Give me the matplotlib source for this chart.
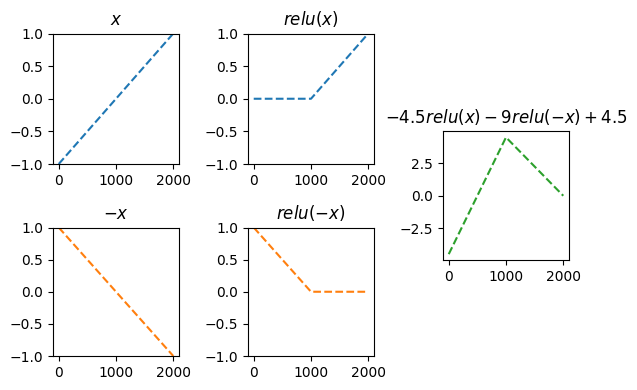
import matplotlib
matplotlib.use('Agg')
import matplotlib.pyplot as plt

# breakpoints of the piecewise-linear curves (sample index -> value)
steps = [0, 1000, 2000]
x_vals = [-1.0, 0.0, 1.0]
relu_x = [0.0, 0.0, 1.0]
neg_x = [1.0, 0.0, -1.0]
relu_neg_x = [1.0, 0.0, 0.0]
combo = [-4.5, 4.5, 0.0]

titles = ['$x$', '$relu(x)$', '$-x$', '$relu(-x)$',
          '$-4.5relu(x) - 9relu(-x) + 4.5$']

W, H = 637, 390
fig = plt.figure(figsize=(W / 100, H / 100), dpi=100)


def box(x0, x1, y0, y1):
    return [x0 / W, 1 - y1 / H, (x1 - x0) / W, (y1 - y0) / H]


ax1 = fig.add_axes(box(53, 179, 33.5, 164))
ax2 = fig.add_axes(box(248, 374, 33.5, 164))
ax4 = fig.add_axes(box(53, 179, 227.5, 356))
ax5 = fig.add_axes(box(248, 374, 227.5, 356))
ax3 = fig.add_axes(box(443, 569, 131.5, 260))

for ax, ys, c, t in [(ax1, x_vals, 'C0', titles[0]),
                     (ax2, relu_x, 'C0', titles[1]),
                     (ax4, neg_x, 'C1', titles[2]),
                     (ax5, relu_neg_x, 'C1', titles[3])]:
    ax.plot(steps, ys, '--', color=c)
    ax.set_ylim(-1, 1)
    ax.set_title(t)

ax3.plot(steps, combo, '--', color='C2')
ax3.set_title(titles[4])

fig.savefig('out.png', dpi=100)
